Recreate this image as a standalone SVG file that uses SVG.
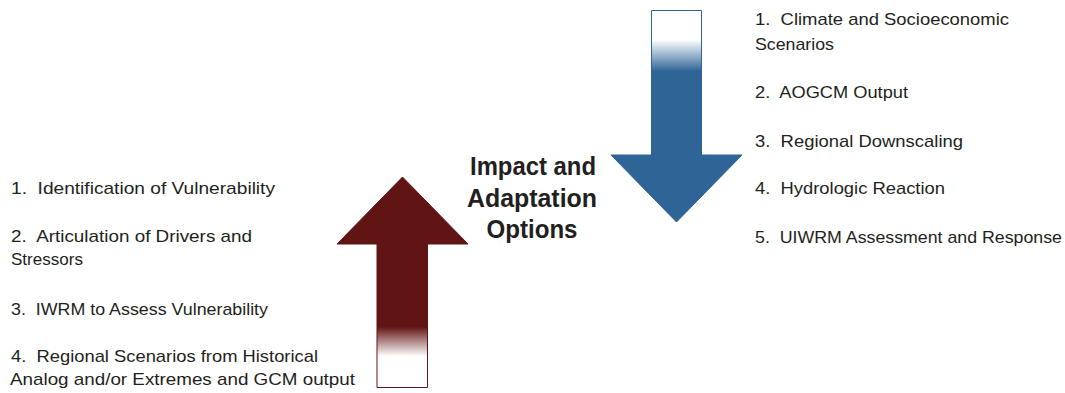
<svg xmlns="http://www.w3.org/2000/svg" width="1065" height="393" viewBox="0 0 1065 393">
<style>
.t{font-family:"Liberation Sans",Arial,sans-serif;font-size:17px;fill:#231F20}
.h{font-family:"Liberation Sans",Arial,sans-serif;font-size:25px;font-weight:bold;fill:#231F20;text-anchor:middle}
</style>
<defs>
<linearGradient id="gb" x1="0" y1="10" x2="0" y2="222" gradientUnits="userSpaceOnUse">
<stop offset="0" stop-color="#ffffff"/>
<stop offset="0.14" stop-color="#ffffff"/>
<stop offset="0.29" stop-color="#2E6496"/>
<stop offset="1" stop-color="#2E6496"/>
</linearGradient>
<linearGradient id="gr" x1="0" y1="388" x2="0" y2="177" gradientUnits="userSpaceOnUse">
<stop offset="0" stop-color="#ffffff"/>
<stop offset="0.15" stop-color="#ffffff"/>
<stop offset="0.29" stop-color="#611414"/>
<stop offset="1" stop-color="#611414"/>
</linearGradient>
</defs>
<rect width="1065" height="393" fill="#ffffff"/>
<g id="down-arrow">
<path d="M651.5,10.5 H701.5 V155 H742 L676.5,222 L611,155 H651.5 Z" fill="url(#gb)" stroke="#2E6496" stroke-width="1"/>
</g>
<g id="up-arrow">
<path d="M377,387.5 H427.5 V244 H468 L402.5,177 L337,244 H377 Z" fill="url(#gr)" stroke="#611414" stroke-width="1"/>
</g>
<g id="center-label">
<text class="h" x="533" y="175" textLength="126" lengthAdjust="spacingAndGlyphs">Impact and</text>
<text class="h" x="532" y="207" textLength="130" lengthAdjust="spacingAndGlyphs">Adaptation</text>
<text class="h" x="532" y="238" textLength="91" lengthAdjust="spacingAndGlyphs">Options</text>
</g>
<g id="right-list">
<text class="t" x="755" y="25" textLength="254" lengthAdjust="spacingAndGlyphs" xml:space="preserve">1.  Climate and Socioeconomic</text>
<text class="t" x="755" y="50" textLength="79" lengthAdjust="spacingAndGlyphs">Scenarios</text>
<text class="t" x="755" y="98" textLength="153" lengthAdjust="spacingAndGlyphs" xml:space="preserve">2.  AOGCM Output</text>
<text class="t" x="755" y="147" textLength="208" lengthAdjust="spacingAndGlyphs" xml:space="preserve">3.  Regional Downscaling</text>
<text class="t" x="755" y="194" textLength="190" lengthAdjust="spacingAndGlyphs" xml:space="preserve">4.  Hydrologic Reaction</text>
<text class="t" x="755" y="243" textLength="307" lengthAdjust="spacingAndGlyphs" xml:space="preserve">5.  UIWRM Assessment and Response</text>
</g>
<g id="left-list">
<text class="t" x="11" y="194" textLength="264" lengthAdjust="spacingAndGlyphs" xml:space="preserve">1.  Identification of Vulnerability</text>
<text class="t" x="11" y="242" textLength="241" lengthAdjust="spacingAndGlyphs" xml:space="preserve">2.  Articulation of Drivers and</text>
<text class="t" x="11" y="265" textLength="72" lengthAdjust="spacingAndGlyphs">Stressors</text>
<text class="t" x="11" y="315" textLength="257" lengthAdjust="spacingAndGlyphs" xml:space="preserve">3.  IWRM to Assess Vulnerability</text>
<text class="t" x="11" y="362" textLength="307" lengthAdjust="spacingAndGlyphs" xml:space="preserve">4.  Regional Scenarios from Historical</text>
<text class="t" x="10" y="385" textLength="345" lengthAdjust="spacingAndGlyphs">Analog and/or Extremes and GCM output</text>
</g>
</svg>
